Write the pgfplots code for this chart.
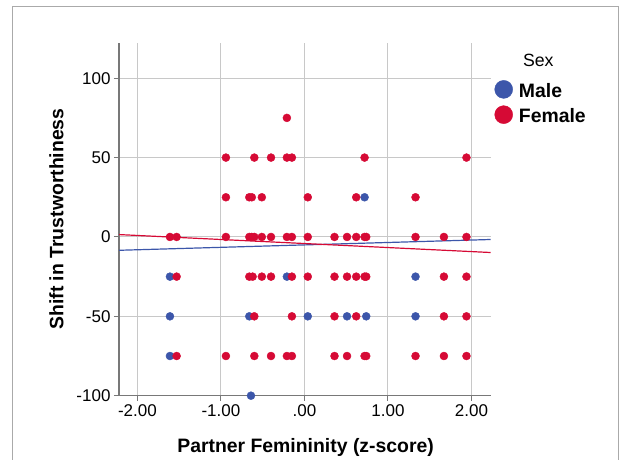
\documentclass[border=0pt]{standalone}
\usepackage{pgfplots}
\pgfplotsset{compat=1.18}
\usepackage{fontspec}
\setmainfont{Liberation Sans}
\definecolor{spssblue}{RGB}{60,86,170}
\definecolor{spssred}{RGB}{214,10,53}
\definecolor{gridgray}{RGB}{200,200,200}
\definecolor{axgray}{RGB}{120,120,120}
\definecolor{framegray}{RGB}{170,170,170}
\begin{document}
\begin{tikzpicture}
\path[use as bounding box] (0pt,0pt) rectangle (619pt,460pt);
\draw[framegray, line width=1pt] (12.5pt,0pt) -- (12.5pt,453.5pt) -- (618pt,453.5pt) -- (618pt,0pt);
\begin{axis}[
  at={(119pt,64.3pt)}, anchor=south west,
  scale only axis, width=371.7pt, height=352.4pt,
  xmin=-2.22, xmax=2.23, ymin=-100, ymax=122,
  axis x line*=bottom, axis y line*=left,
  axis line style={axgray, line width=1.2pt},
  xtick={-2,-1,0,1,2}, xticklabels={-2.00,-1.00,.00,1.00,2.00},
  ytick={-100,-50,0,50,100}, yticklabels={-100,-50,0,50,100},
  grid=major, major grid style={gridgray, line width=1pt},
  tick align=outside, major tick length=5pt, tick style={axgray, line width=1pt},
  tick label style={font=\fontsize{17}{20}\selectfont},
  xlabel={Partner Femininity (z-score)}, ylabel={Shift in Trustworthiness},
  label style={font=\bfseries\fontsize{19.4}{22}\selectfont},
  xlabel style={at={(axis description cs:0.502,-0.1606)}, anchor=base},
  ylabel style={at={(axis description cs:-0.1499,0.5014)}, anchor=base},
  legend style={at={(1.0097,0.8959)}, anchor=north west, draw=none, fill=none,
    inner sep=0pt, row sep=6.3pt, column sep=6pt,
    font=\bfseries\fontsize{19.4}{22}\selectfont, nodes={inner sep=0pt}},
  legend cell align=left,
  legend image code/.code={\fill (9pt,2pt) circle (9pt);},
]
\addplot[only marks, mark=*, mark size=4pt, color=spssblue] coordinates {
(-1.61,-25) (-0.21,-25) (1.33,-25)
(0.72,25)
(-1.61,-50) (-0.66,-50) (0.04,-50) (0.51,-50) (0.74,-50) (1.33,-50)
(-1.61,-75)
(-0.64,-100)
};
\addlegendentry{Male}
\addplot[only marks, mark=*, mark size=4pt, color=spssred] coordinates {
(-0.21,75)
(-0.94,50) (-0.60,50) (-0.40,50) (-0.21,50) (-0.15,50) (0.72,50) (1.94,50)
(-0.94,25) (-0.66,25) (-0.63,25) (-0.51,25) (0.04,25) (0.62,25) (1.33,25)
(-1.61,0) (-1.53,0) (-0.94,0) (-0.66,0) (-0.63,0) (-0.60,0) (-0.51,0) (-0.40,0) (-0.21,0) (-0.15,0) (0.04,0) (0.36,0) (0.51,0) (0.62,0) (0.72,0) (0.74,0) (1.33,0) (1.67,0) (1.94,0)
(-1.53,-25) (-0.66,-25) (-0.62,-25) (-0.51,-25) (-0.40,-25) (-0.15,-25) (0.04,-25) (0.36,-25) (0.51,-25) (0.62,-25) (0.72,-25) (0.74,-25) (1.67,-25) (1.94,-25)
(-0.60,-50) (-0.15,-50) (0.36,-50) (0.62,-50) (1.67,-50) (1.94,-50)
(-1.53,-75) (-0.94,-75) (-0.60,-75) (-0.40,-75) (-0.21,-75) (-0.15,-75) (0.36,-75) (0.51,-75) (0.72,-75) (0.74,-75) (1.33,-75) (1.67,-75) (1.94,-75)
};
\addlegendentry{Female}
\addplot[forget plot, spssblue, line width=1.2pt] coordinates {(-2.22,-8.4) (2.23,-1.6)};
\addplot[forget plot, spssred, line width=1.2pt] coordinates {(-2.22,1.5) (2.23,-9.8)};
\end{axis}
\node[anchor=base, font=\fontsize{17.7}{21}\selectfont] at (538.3pt,393.3pt) {Sex};
\end{tikzpicture}
\end{document}
